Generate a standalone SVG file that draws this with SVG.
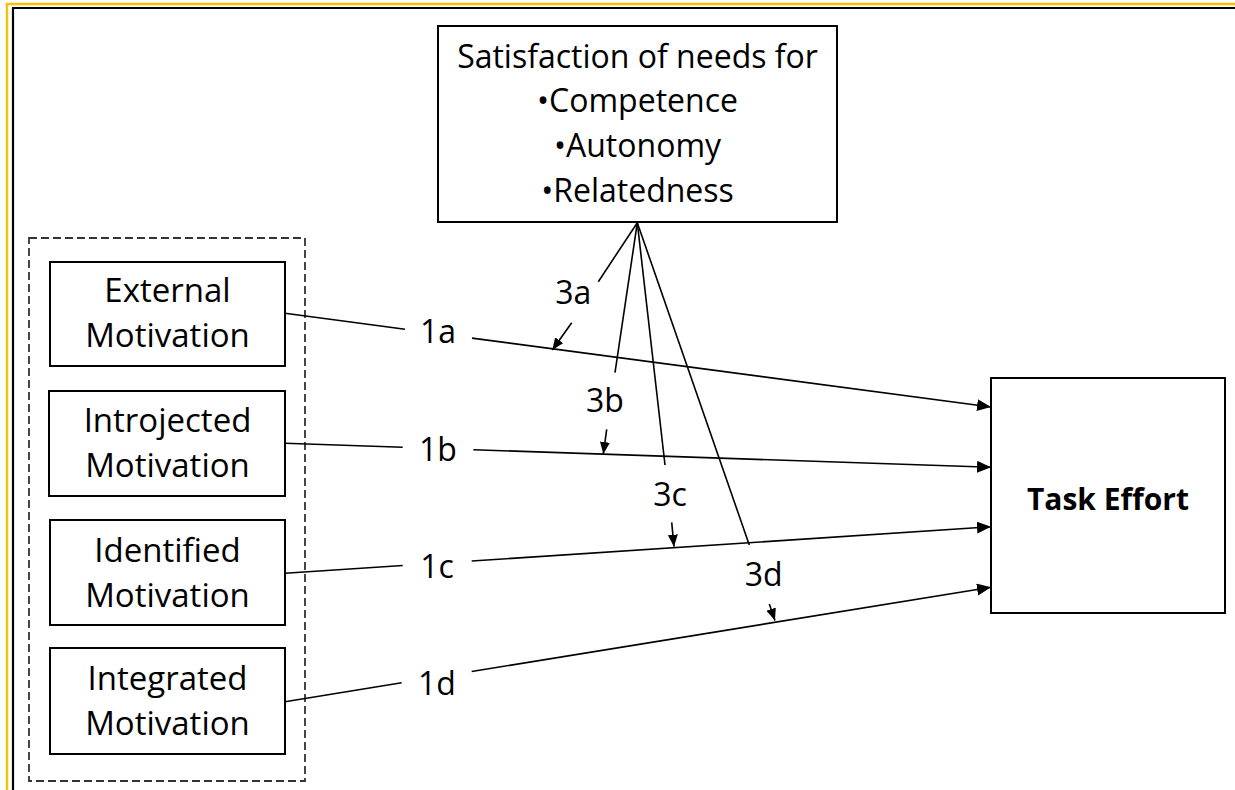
<svg xmlns="http://www.w3.org/2000/svg" width="1235" height="790" viewBox="0 0 1235 790">
<defs>
<style>
.box{fill:#fff;stroke:#000;stroke-width:2}
.dash{fill:none;stroke:#333;stroke-width:1.8;stroke-dasharray:8 4}
.t{font-family:"Open Sans","Liberation Sans",sans-serif;font-size:32px;fill:#000;text-anchor:middle}
.m{font-size:33px}
.b{font-weight:bold;font-size:30px}
.ln{fill:none;stroke:#000;stroke-width:1.6}
.big{marker-end:url(#ah)}
.sm{marker-end:url(#as)}
</style>
<marker id="ah" markerUnits="userSpaceOnUse" markerWidth="15" markerHeight="13" refX="14" refY="6" orient="auto">
<path d="M0,0 L14,6 L0,12 z" fill="#000"/>
</marker>
<marker id="as" markerUnits="userSpaceOnUse" markerWidth="13" markerHeight="11" refX="12" refY="5" orient="auto">
<path d="M0,0 L12,5 L0,10 z" fill="#000"/>
</marker>
</defs>
<rect width="1235" height="790" fill="#fff"/>
<g id="frame">
<polyline points="7,790 7,4 1235,4" fill="none" stroke="#FFC000" stroke-width="2.4"/>
<polyline points="13,790 13,8 1235,8" fill="none" stroke="#000" stroke-width="2.2"/>
</g>
<g id="group-motivations">
<rect class="dash" x="29" y="238" width="276" height="543"/>
</g>
<g id="needs">
<rect class="box" x="438" y="26" width="399" height="196"/>
<text class="t" x="637.5" y="68">Satisfaction of needs for</text>
<text class="t" x="637.5" y="112">•Competence</text>
<text class="t" x="637.5" y="157">•Autonomy</text>
<text class="t" x="637.5" y="202">•Relatedness</text>
</g>
<g id="external">
<rect class="box" x="50" y="262" width="235" height="104"/>
<text class="t m" x="167.5" y="302">External</text>
<text class="t m" x="167.5" y="347">Motivation</text>
</g>
<g id="introjected">
<rect class="box" x="49" y="391" width="236" height="105"/>
<text class="t m" x="167.5" y="431.5">Introjected</text>
<text class="t m" x="167.5" y="476.5">Motivation</text>
</g>
<g id="identified">
<rect class="box" x="50" y="520" width="235" height="105"/>
<text class="t m" x="167.5" y="561.5">Identified</text>
<text class="t m" x="167.5" y="606.5">Motivation</text>
</g>
<g id="integrated">
<rect class="box" x="50" y="648" width="235" height="106"/>
<text class="t m" x="167.5" y="690">Integrated</text>
<text class="t m" x="167.5" y="735">Motivation</text>
</g>
<g id="task-effort">
<rect class="box" x="991" y="378" width="234" height="235"/>
<text class="t b" x="1108" y="510">Task Effort</text>
</g>
<g id="connectors">
<line class="ln" x1="285" y1="313.3" x2="405" y2="329.2"/>
<line class="ln big" x1="472" y1="338.1" x2="991" y2="407"/>
<line class="ln" x1="285" y1="443.3" x2="402.7" y2="447.3"/>
<line class="ln big" x1="473.3" y1="449.7" x2="991" y2="467.3"/>
<line class="ln" x1="285" y1="573.3" x2="402.7" y2="565.5"/>
<line class="ln big" x1="471.7" y1="561" x2="991" y2="526.7"/>
<line class="ln" x1="285" y1="701.7" x2="401.7" y2="682.8"/>
<line class="ln big" x1="471.7" y1="671.5" x2="991" y2="587.3"/>
<line class="ln" x1="637.3" y1="222.7" x2="598.3" y2="281.7"/>
<line class="ln sm" x1="571.7" y1="322.7" x2="552.3" y2="350"/>
<line class="ln" x1="637.3" y1="222.7" x2="615" y2="372.7"/>
<line class="ln sm" x1="606.7" y1="429.3" x2="603.3" y2="454"/>
<line class="ln" x1="637.3" y1="222.7" x2="665" y2="465"/>
<line class="ln sm" x1="671.7" y1="522.3" x2="674" y2="546.7"/>
<line class="ln" x1="637.3" y1="222.7" x2="749.3" y2="545"/>
<line class="ln sm" x1="769.3" y1="604" x2="775" y2="620.5"/>
<g id="labels">
<text class="t" x="438" y="343">1a</text>
<text class="t" x="438" y="460.7">1b</text>
<text class="t" x="437" y="578">1c</text>
<text class="t" x="437" y="695">1d</text>
<text class="t" x="573.3" y="304">3a</text>
<text class="t" x="605" y="411.5">3b</text>
<text class="t" x="670" y="506">3c</text>
<text class="t" x="763.7" y="586">3d</text>
</g>
</g>
</svg>
